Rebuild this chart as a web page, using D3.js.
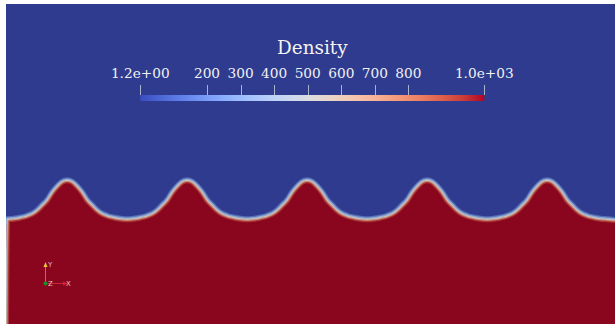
<!DOCTYPE html>
<html>
<head>
<meta charset="utf-8">
<script src="https://cdn.jsdelivr.net/npm/d3@7"></script>
<style>
  html, body { margin: 0; padding: 0; background: #ffffff; }
  svg { display: block; }
</style>
</head>
<body>
<svg id="chart" width="615" height="324"></svg>
<script>
// ---- data ----
// domain extent in wavelengths (x) and y measured upward from the bottom
const xExtent = [0, 5.075];
const yExtent = [0, 2.667];
// crest positions of the interface (x, wavelengths)
const crestX = [0.51, 1.51, 2.51, 3.51, 4.51];
// interface trough level (y)
const baseLevel = 0.873;
// one wave profile: offset from crest and height above trough
const profileDx = [-0.5, -0.458, -0.417, -0.375, -0.333, -0.292, -0.25, -0.208, -0.167, -0.125, -0.083, -0.042, 0,
                   0.042, 0.083, 0.125, 0.167, 0.208, 0.25, 0.292, 0.333, 0.375, 0.417, 0.458];
const profileH  = [0.000, 0.003, 0.008, 0.017, 0.029, 0.046, 0.075, 0.117, 0.160, 0.225, 0.275, 0.3125, 0.325,
                   0.3125, 0.275, 0.225, 0.160, 0.117, 0.075, 0.046, 0.029, 0.017, 0.008, 0.003];
// interface at the left and right edges of the domain
const edgePoints = [[0, 0.001], [5.075, -0.006]];

// colour bar
const colorTitle = "Density";
const colorDomain = [1.2, 1026];
const tickValues = [1.2, 200, 300, 400, 500, 600, 700, 800, 1026];
const tickLabels = ["1.2e+00", "200", "300", "400", "500", "600", "700", "800", "1.0e+03"];
// ParaView "Cool to Warm" map (position, rgb)
const cmapPos = [0, 0.0625, 0.125, 0.1875, 0.25, 0.3125, 0.375, 0.4375, 0.5, 0.5625, 0.625, 0.6875, 0.75, 0.8125, 0.875, 0.9375, 1];
const cmapRGB = [[59,76,192],[77,104,215],[98,130,234],[119,154,247],[141,176,254],[163,194,255],[184,208,249],[204,217,238],
                 [221,221,221],[236,211,197],[245,196,173],[247,177,148],[244,154,123],[236,127,99],[222,96,77],[203,62,56],[180,4,38]];

// ---- drawing ----
const svg = d3.select("#chart");
const x = d3.scaleLinear().domain(xExtent).range([6, 615]);
const y = d3.scaleLinear().domain(yExtent).range([324, 4]);

const lowColor = "rgb(46,59,142)";
const highColor = "rgb(138,6,31)";

svg.append("rect").attr("x", x(xExtent[0])).attr("y", y(yExtent[1]))
  .attr("width", x(xExtent[1]) - x(xExtent[0])).attr("height", y(yExtent[0]) - y(yExtent[1]))
  .attr("fill", lowColor);

// build interface points
const pts = [edgePoints[0]];
crestX.forEach(cx => profileDx.forEach((dx, i) => pts.push([cx + dx, baseLevel + profileH[i]])));
pts.push([crestX[crestX.length - 1] + 0.5, baseLevel + profileH[0]]);
pts.push([edgePoints[1][0], baseLevel + edgePoints[1][1]]);
const iface = pts.filter(p => p[0] >= xExtent[0] && p[0] <= xExtent[1]);

const line = d3.line().x(d => x(d[0])).y(d => y(d[1])).curve(d3.curveMonotoneX);
const area = d3.area().x(d => x(d[0])).y0(y(yExtent[0])).y1(d => y(d[1])).curve(d3.curveMonotoneX);

const defs = svg.append("defs");
defs.append("clipPath").attr("id", "heavy").append("path").attr("d", area(iface));
defs.append("clipPath").attr("id", "dom").append("rect")
  .attr("x", x(xExtent[0])).attr("y", y(yExtent[1]))
  .attr("width", x(xExtent[1]) - x(xExtent[0])).attr("height", y(yExtent[0]) - y(yExtent[1]));

const g = svg.append("g").attr("clip-path", "url(#dom)");
g.append("path").attr("d", line(iface)).attr("fill", "none").attr("stroke", "rgb(85,110,180)").attr("stroke-width", 6);
g.append("path").attr("d", line(iface)).attr("fill", "none").attr("stroke", "rgb(140,165,210)").attr("stroke-width", 3.6);
g.append("path").attr("d", area(iface)).attr("fill", highColor);
const gh = g.append("g").attr("clip-path", "url(#heavy)");
gh.append("path").attr("d", line(iface)).attr("fill", "none").attr("stroke", "rgb(170,55,55)").attr("stroke-width", 6);
gh.append("path").attr("d", line(iface)).attr("fill", "none").attr("stroke", "rgb(205,130,105)").attr("stroke-width", 3.4);
g.append("path").attr("d", line(iface)).attr("fill", "none").attr("stroke", "rgb(190,192,200)").attr("stroke-width", 1.3);

// colour bar
const cb = d3.scaleLinear().domain(colorDomain).range([140.3, 484.3]);
const grad = defs.append("linearGradient").attr("id", "cmap").attr("x1", "0%").attr("x2", "100%").attr("y1", "0%").attr("y2", "0%");
cmapPos.forEach((p, i) => grad.append("stop").attr("offset", (p * 100) + "%")
  .attr("stop-color", d3.rgb(cmapRGB[i][0], cmapRGB[i][1], cmapRGB[i][2]).toString()));

svg.append("rect").attr("x", cb(colorDomain[0])).attr("y", 95)
  .attr("width", cb(colorDomain[1]) - cb(colorDomain[0])).attr("height", 6)
  .attr("fill", "url(#cmap)");

const serif = "'DejaVu Serif', serif";
svg.selectAll("line.tick").data(tickValues).join("line").attr("class", "tick")
  .attr("x1", d => Math.round(cb(d)) + 0.5).attr("x2", d => Math.round(cb(d)) + 0.5)
  .attr("y1", 85).attr("y2", 95)
  .attr("stroke", "rgb(170,178,210)").attr("stroke-width", 1);

svg.selectAll("text.tl").data(tickValues).join("text").attr("class", "tl")
  .attr("x", d => cb(d)).attr("y", 77.5)
  .attr("text-anchor", "middle")
  .attr("font-family", serif).attr("font-size", 13.7)
  .attr("fill", "#f2f2f2")
  .text((d, i) => tickLabels[i]);

svg.append("text").attr("x", (cb(colorDomain[0]) + cb(colorDomain[1])) / 2).attr("y", 54.3)
  .attr("text-anchor", "middle").attr("font-family", serif).attr("font-size", 18.4)
  .attr("fill", "#f4f4f4").text(colorTitle);

// orientation triad
const tri = svg.append("g");
tri.append("line").attr("x1", 45.5).attr("y1", 283).attr("x2", 45.5).attr("y2", 265)
  .attr("stroke", "rgb(200,110,60)").attr("stroke-width", 1);
tri.append("path").attr("d", "M43.5,267 L45.5,262 L47.5,267 Z").attr("fill", "rgb(230,200,60)");
tri.append("line").attr("x1", 45.5).attr("y1", 283.5).attr("x2", 64).attr("y2", 283.5)
  .attr("stroke", "rgb(200,40,50)").attr("stroke-width", 1);
tri.append("path").attr("d", "M63,281.5 L68,283.5 L63,285.5 Z").attr("fill", "rgb(225,30,40)");
tri.append("circle").attr("cx", 45.5).attr("cy", 283.5).attr("r", 2).attr("fill", "rgb(30,140,40)");
const triFont = "'DejaVu Sans', sans-serif";
tri.append("text").attr("x", 48).attr("y", 267).attr("font-family", triFont).attr("font-size", 7).attr("fill", "rgb(235,190,190)").text("Y");
tri.append("text").attr("x", 48).attr("y", 286).attr("font-family", triFont).attr("font-size", 7).attr("fill", "rgb(235,190,190)").text("Z");
tri.append("text").attr("x", 66).attr("y", 286).attr("font-family", triFont).attr("font-size", 7).attr("fill", "rgb(235,190,190)").text("X");
</script>
</body>
</html>
